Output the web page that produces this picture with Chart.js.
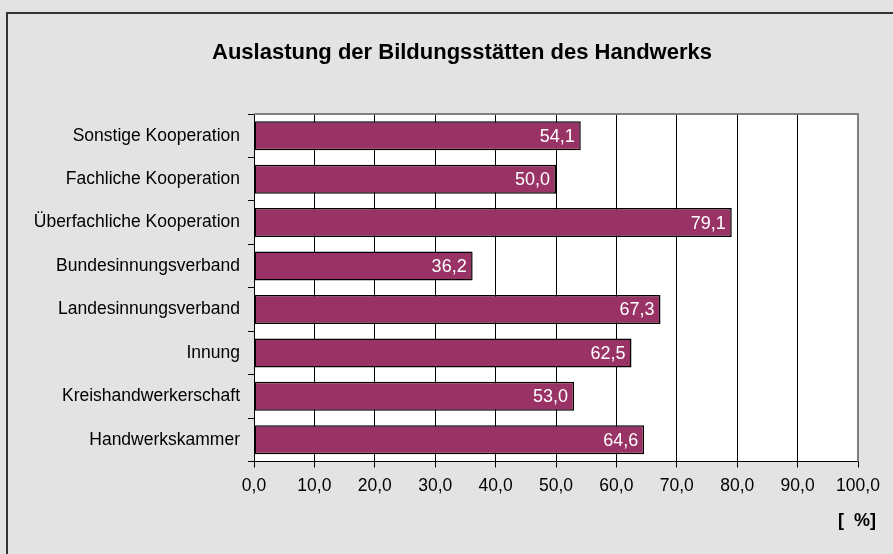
<!DOCTYPE html>
<html>
<head>
<meta charset="utf-8">
<script src="https://cdn.jsdelivr.net/npm/chart.js@4/dist/chart.umd.min.js"></script>
<style>
  html, body { margin: 0; padding: 0; background: #e3e3e3; }
  #wrap { width: 893px; height: 554px; }
</style>
</head>
<body>
<div id="wrap"><canvas id="c" width="893" height="554"></canvas></div>
<script>
const titleText = "Auslastung der Bildungsstätten des Handwerks";
const unitLabel = "[  %]";
const categories = [
  "Sonstige Kooperation",
  "Fachliche Kooperation",
  "Überfachliche Kooperation",
  "Bundesinnungsverband",
  "Landesinnungsverband",
  "Innung",
  "Kreishandwerkerschaft",
  "Handwerkskammer"
];
const values = [54.1, 50.0, 79.1, 36.2, 67.3, 62.5, 53.0, 64.6];
const axisMin = 0;
const axisMax = 100;
const axisStep = 10;

const FONT = "'Liberation Sans', Arial, sans-serif";
const fmt = v => Number(v).toFixed(1).replace('.', ',');

const decor = {
  id: 'decor',
  beforeDraw(chart) {
    const ctx = chart.ctx;
    const a = chart.chartArea;
    ctx.save();
    ctx.fillStyle = '#e3e3e3';
    ctx.fillRect(0, 0, chart.width, chart.height);
    // outer frame
    ctx.strokeStyle = '#333333';
    ctx.lineWidth = 2;
    ctx.beginPath();
    ctx.moveTo(7, chart.height + 5);
    ctx.lineTo(7, 13);
    ctx.lineTo(chart.width + 5, 13);
    ctx.stroke();
    // plot area
    ctx.fillStyle = '#ffffff';
    ctx.fillRect(a.left, a.top, a.right - a.left, a.bottom - a.top);
    ctx.restore();
  },
  afterDraw(chart) {
    const ctx = chart.ctx;
    const a = chart.chartArea;
    ctx.save();
    // plot border top & right
    ctx.strokeStyle = '#808080';
    ctx.lineWidth = 2;
    ctx.beginPath();
    ctx.moveTo(a.left, a.top);
    ctx.lineTo(a.right, a.top);
    ctx.lineTo(a.right, a.bottom);
    ctx.stroke();
    // title
    ctx.fillStyle = '#000';
    ctx.font = "bold 22px " + FONT;
    ctx.textAlign = 'center';
    ctx.textBaseline = 'middle';
    ctx.fillText(titleText, 462, 53);
    // unit label
    ctx.font = "bold 18px " + FONT;
    ctx.textAlign = 'right';
    ctx.fillText(unitLabel, 876, 521);
    ctx.restore();
  },
  afterDatasetsDraw(chart) {
    const ctx = chart.ctx;
    const meta = chart.getDatasetMeta(0);
    ctx.save();
    ctx.fillStyle = '#ffffff';
    ctx.font = "18px " + FONT;
    ctx.textAlign = 'right';
    ctx.textBaseline = 'middle';
    meta.data.forEach((bar, i) => {
      ctx.fillText(fmt(values[i]), bar.x - 6, bar.y + 1);
    });
    ctx.restore();
  }
};

new Chart(document.getElementById('c'), {
  type: 'bar',
  data: {
    labels: categories,
    datasets: [{
      data: values,
      backgroundColor: '#993366',
      borderColor: '#000000',
      borderWidth: 1.5,
      borderSkipped: false,
      categoryPercentage: 0.667,
      barPercentage: 1.0
    }]
  },
  options: {
    indexAxis: 'y',
    responsive: false,
    animation: false,
    devicePixelRatio: 1,
    layout: { padding: { top: 114, right: 35, left: 0, bottom: 0 } },
    plugins: { legend: { display: false }, tooltip: { enabled: false }, title: { display: false } },
    scales: {
      x: {
        min: axisMin, max: axisMax,
        afterFit(s) { s.height = 92.5; },
        ticks: {
          stepSize: axisStep,
          callback: v => fmt(v),
          color: '#000',
          font: { family: FONT, size: 17.5 },
          padding: 8,
          maxRotation: 0,
          autoSkip: false
        },
        grid: { color: '#000000', lineWidth: 1, tickLength: 6, drawOnChartArea: true },
        border: { display: true, color: '#000000', width: 1 }
      },
      y: {
        afterFit(s) { s.width = 254; },
        ticks: {
          color: '#000',
          font: { family: FONT, size: 17.5 },
          padding: 8,
          autoSkip: false
        },
        grid: { offset: true, drawOnChartArea: false, color: '#000000', tickLength: 6 },
        border: { display: true, color: '#000000', width: 1 }
      }
    }
  },
  plugins: [decor]
});
</script>
</body>
</html>
